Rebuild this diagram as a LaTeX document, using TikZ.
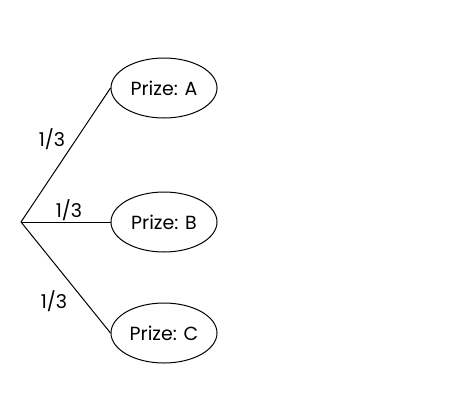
\documentclass[tikz,border=0pt]{standalone}
\usepackage{fontspec}
\setmainfont{Poppins}
\usepackage{tikz}
\usetikzlibrary{shapes.geometric}

\begin{document}
\begin{tikzpicture}[x=1pt,y=-1pt,
    prize/.style={draw,line width=1pt,ellipse,minimum width=106pt,minimum height=60pt,inner sep=0pt,font=\fontsize{19}{22}\selectfont},
    prob/.style={font=\fontsize{19}{22}\selectfont}]
    \useasboundingbox (0,0) rectangle (450,400);
    \coordinate (root) at (21,222);
    \node[prize] (pa) at (164,88) {Prize: A};
    \node[prize] (pb) at (164,222) {Prize: B};
    \node[prize] (pc) at (164,333) {Prize: C};
    \draw[line width=1pt] (root) -- (pa.west);
    \draw[line width=1pt] (root) -- (pb.west);
    \draw[line width=1pt] (root) -- (pc.west);
    % branch labels
    \node[prob] (la) at (52,139) {1/3};
    \node[prob] (lb) at (69,210) {1/3};
    \node[prob] (lc) at (54,301) {1/3};
\end{tikzpicture}
\end{document}
